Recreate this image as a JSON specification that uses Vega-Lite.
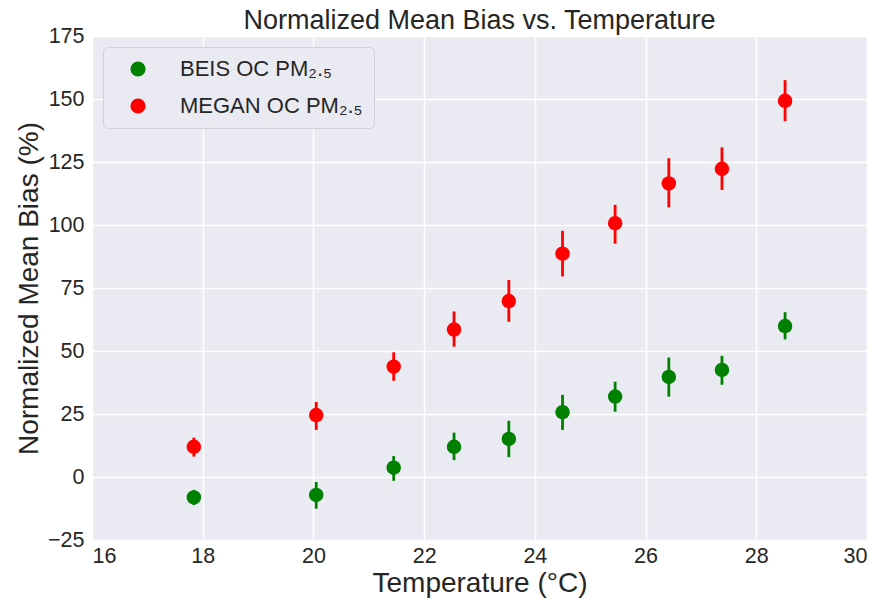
{
  "$schema": "https://vega.github.io/schema/vega-lite/v6.json",
  "autosize": "none",
  "width": 775,
  "height": 504,
  "padding": {"left": 92, "top": 36, "right": 16, "bottom": 61},
  "background": "white",
  "title": {
    "text": "Normalized Mean Bias vs. Temperature",
    "fontSize": 27,
    "font": "Liberation Sans",
    "fontWeight": "normal",
    "color": "#262626",
    "frame": "group",
    "offset": 4,
    "dy": 14,
    "anchor": "middle"
  },
  "config": {
    "view": {"fill": "#EAEAF2", "stroke": null},
    "axis": {
      "domain": false,
      "ticks": false,
      "grid": true,
      "gridColor": "#FFFFFF",
      "gridWidth": 1.5,
      "labelFont": "Liberation Sans",
      "labelFontSize": 21.5,
      "labelColor": "#262626",
      "titleFont": "Liberation Sans",
      "titleFontSize": 28,
      "titleFontWeight": "normal",
      "titleColor": "#262626"
    }
  },
  "data": {
    "values": [
      {"model": "BEIS OC PM₂.₅", "temp": 17.84, "nmb": -8.1, "lo": -11.1, "hi": -5.1},
      {"model": "BEIS OC PM₂.₅", "temp": 20.05, "nmb": -7.1, "lo": -12.6, "hi": -2.0},
      {"model": "BEIS OC PM₂.₅", "temp": 21.45, "nmb": 3.7, "lo": -1.5, "hi": 8.3},
      {"model": "BEIS OC PM₂.₅", "temp": 22.54, "nmb": 12.0, "lo": 6.7, "hi": 17.6},
      {"model": "BEIS OC PM₂.₅", "temp": 23.53, "nmb": 15.1, "lo": 7.9, "hi": 22.3},
      {"model": "BEIS OC PM₂.₅", "temp": 24.5, "nmb": 25.7, "lo": 18.7, "hi": 32.6},
      {"model": "BEIS OC PM₂.₅", "temp": 25.45, "nmb": 31.9, "lo": 25.9, "hi": 37.8},
      {"model": "BEIS OC PM₂.₅", "temp": 26.42, "nmb": 39.7, "lo": 31.9, "hi": 47.4},
      {"model": "BEIS OC PM₂.₅", "temp": 27.38, "nmb": 42.5, "lo": 36.6, "hi": 48.1},
      {"model": "BEIS OC PM₂.₅", "temp": 28.52, "nmb": 59.9, "lo": 54.6, "hi": 65.4},
      {"model": "MEGAN OC PM₂.₅", "temp": 17.84, "nmb": 12.0, "lo": 8.1, "hi": 15.6},
      {"model": "MEGAN OC PM₂.₅", "temp": 20.05, "nmb": 24.6, "lo": 18.7, "hi": 29.8},
      {"model": "MEGAN OC PM₂.₅", "temp": 21.45, "nmb": 43.8, "lo": 38.2, "hi": 49.5},
      {"model": "MEGAN OC PM₂.₅", "temp": 22.54, "nmb": 58.5, "lo": 51.7, "hi": 65.7},
      {"model": "MEGAN OC PM₂.₅", "temp": 23.53, "nmb": 69.8, "lo": 61.6, "hi": 78.2},
      {"model": "MEGAN OC PM₂.₅", "temp": 24.5, "nmb": 88.6, "lo": 79.6, "hi": 97.7},
      {"model": "MEGAN OC PM₂.₅", "temp": 25.45, "nmb": 100.7, "lo": 92.6, "hi": 108.0},
      {"model": "MEGAN OC PM₂.₅", "temp": 26.42, "nmb": 116.5, "lo": 107.0, "hi": 126.5},
      {"model": "MEGAN OC PM₂.₅", "temp": 27.38, "nmb": 122.3, "lo": 113.9, "hi": 130.8},
      {"model": "MEGAN OC PM₂.₅", "temp": 28.52, "nmb": 149.3, "lo": 141.2, "hi": 157.5}
    ]
  },
  "encoding": {
    "x": {
      "field": "temp",
      "type": "quantitative",
      "scale": {"domain": [16, 30], "nice": false, "zero": false},
      "axis": {"title": "Temperature (°C)", "values": [16, 18, 20, 22, 24, 26, 28, 30], "labelPadding": 5, "titlePadding": 3}
    },
    "color": {
      "field": "model",
      "type": "nominal",
      "scale": {"domain": ["BEIS OC PM₂.₅", "MEGAN OC PM₂.₅"], "range": ["#008000", "#FF0000"]}
    }
  },
  "layer": [
    {
      "mark": {"type": "rule", "strokeWidth": 2.8},
      "encoding": {
        "y": {"field": "lo", "type": "quantitative"},
        "y2": {"field": "hi"}
      }
    },
    {
      "mark": {"type": "point", "shape": "circle", "filled": true, "opacity": 1, "size": 210},
      "encoding": {
        "y": {
          "field": "nmb",
          "type": "quantitative",
          "scale": {"domain": [-25, 175], "nice": false, "zero": false},
          "axis": {"title": "Normalized Mean Bias (%)", "values": [-25, 0, 25, 50, 75, 100, 125, 150, 175], "labelPadding": 8, "titlePadding": 4}
        },
        "color": {
          "field": "model",
          "type": "nominal",
          "legend": {
            "title": null,
            "orient": "top-left",
            "offset": 11,
            "padding": 11,
            "fillColor": "#EAEAF2",
            "strokeColor": "#D2D2DA",
            "cornerRadius": 5,
            "symbolType": "circle",
            "symbolSize": 230,
            "symbolOpacity": 1,
            "symbolStrokeWidth": 0,
            "symbolOffset": 13,
            "labelFont": "Liberation Sans",
            "labelFontSize": 22,
            "labelColor": "#262626",
            "labelOffset": 31,
            "labelExpr": "datum.label + '           '",
            "rowPadding": 15,
            "labelLimit": 500
          }
        }
      }
    }
  ]
}
